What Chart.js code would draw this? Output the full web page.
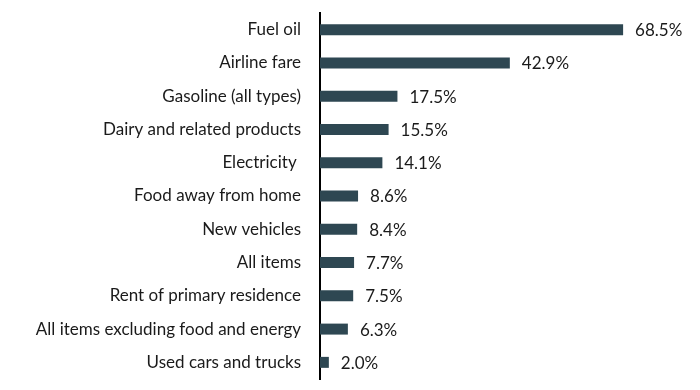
<!DOCTYPE html>
<html>
<head>
<meta charset="utf-8">
<script src="https://cdn.jsdelivr.net/npm/chart.js@4"></script>
<style>
  body { margin: 0; background: #fff; }
  #wrap { width: 700px; height: 390px; }
</style>
</head>
<body>
<div id="wrap"><canvas id="myChart"></canvas></div>
<script>
var categories = ['Fuel oil', 'Airline fare', 'Gasoline (all types)', 'Dairy and related products',
    'Electricity ', 'Food away from home', 'New vehicles', 'All items', 'Rent of primary residence',
    'All items excluding food and energy', 'Used cars and trucks'];
var changes = [68.5, 42.9, 17.5, 15.5, 14.1, 8.6, 8.4, 7.7, 7.5, 6.3, 2.0];

var valueLabels = {
    id: 'valueLabels',
    afterDatasetsDraw: function(chart) {
        var ctx = chart.ctx;
        var meta = chart.getDatasetMeta(0);
        ctx.save();
        ctx.font = '17px Lato, "Open Sans", sans-serif';
        ctx.fillStyle = '#1a1a1a';
        ctx.textAlign = 'left';
        ctx.textBaseline = 'middle';
        meta.data.forEach(function(bar, i) {
            ctx.fillText(changes[i].toFixed(1) + '%', bar.x + 12, bar.y + 1);
        });
        ctx.restore();
    }
};

const ctx = document.getElementById('myChart');
chart = new Chart(ctx, {
    type: 'bar',
    data: {
        labels: categories,
        datasets: [{
            data: changes,
            backgroundColor: '#2e4752',
            borderWidth: 0,
            barPercentage: 0.33,
            categoryPercentage: 1
        }]
    },
    options: {
        indexAxis: 'y',
        animation: false,
        maintainAspectRatio: false,
        responsive: true,
        layout: {
            padding: { top: 13, bottom: 11, left: 0, right: 26 }
        },
        plugins: {
            legend: { display: false },
            tooltip: { enabled: false }
        },
        scales: {
            x: {
                display: false,
                min: 0,
                max: 80
            },
            y: {
                grid: { display: false },
                border: { display: true, color: '#000', width: 2 },
                ticks: {
                    color: '#1a1a1a',
                    padding: 11,
                    font: { family: 'Lato, "Open Sans", sans-serif', size: 17 }
                },
                afterFit: function(scale) {
                    scale.width = 320;
                    scale.paddingTop = 0;
                    scale.paddingBottom = 0;
                }
            }
        }
    },
    plugins: [valueLabels]
});
</script>
</body>
</html>
